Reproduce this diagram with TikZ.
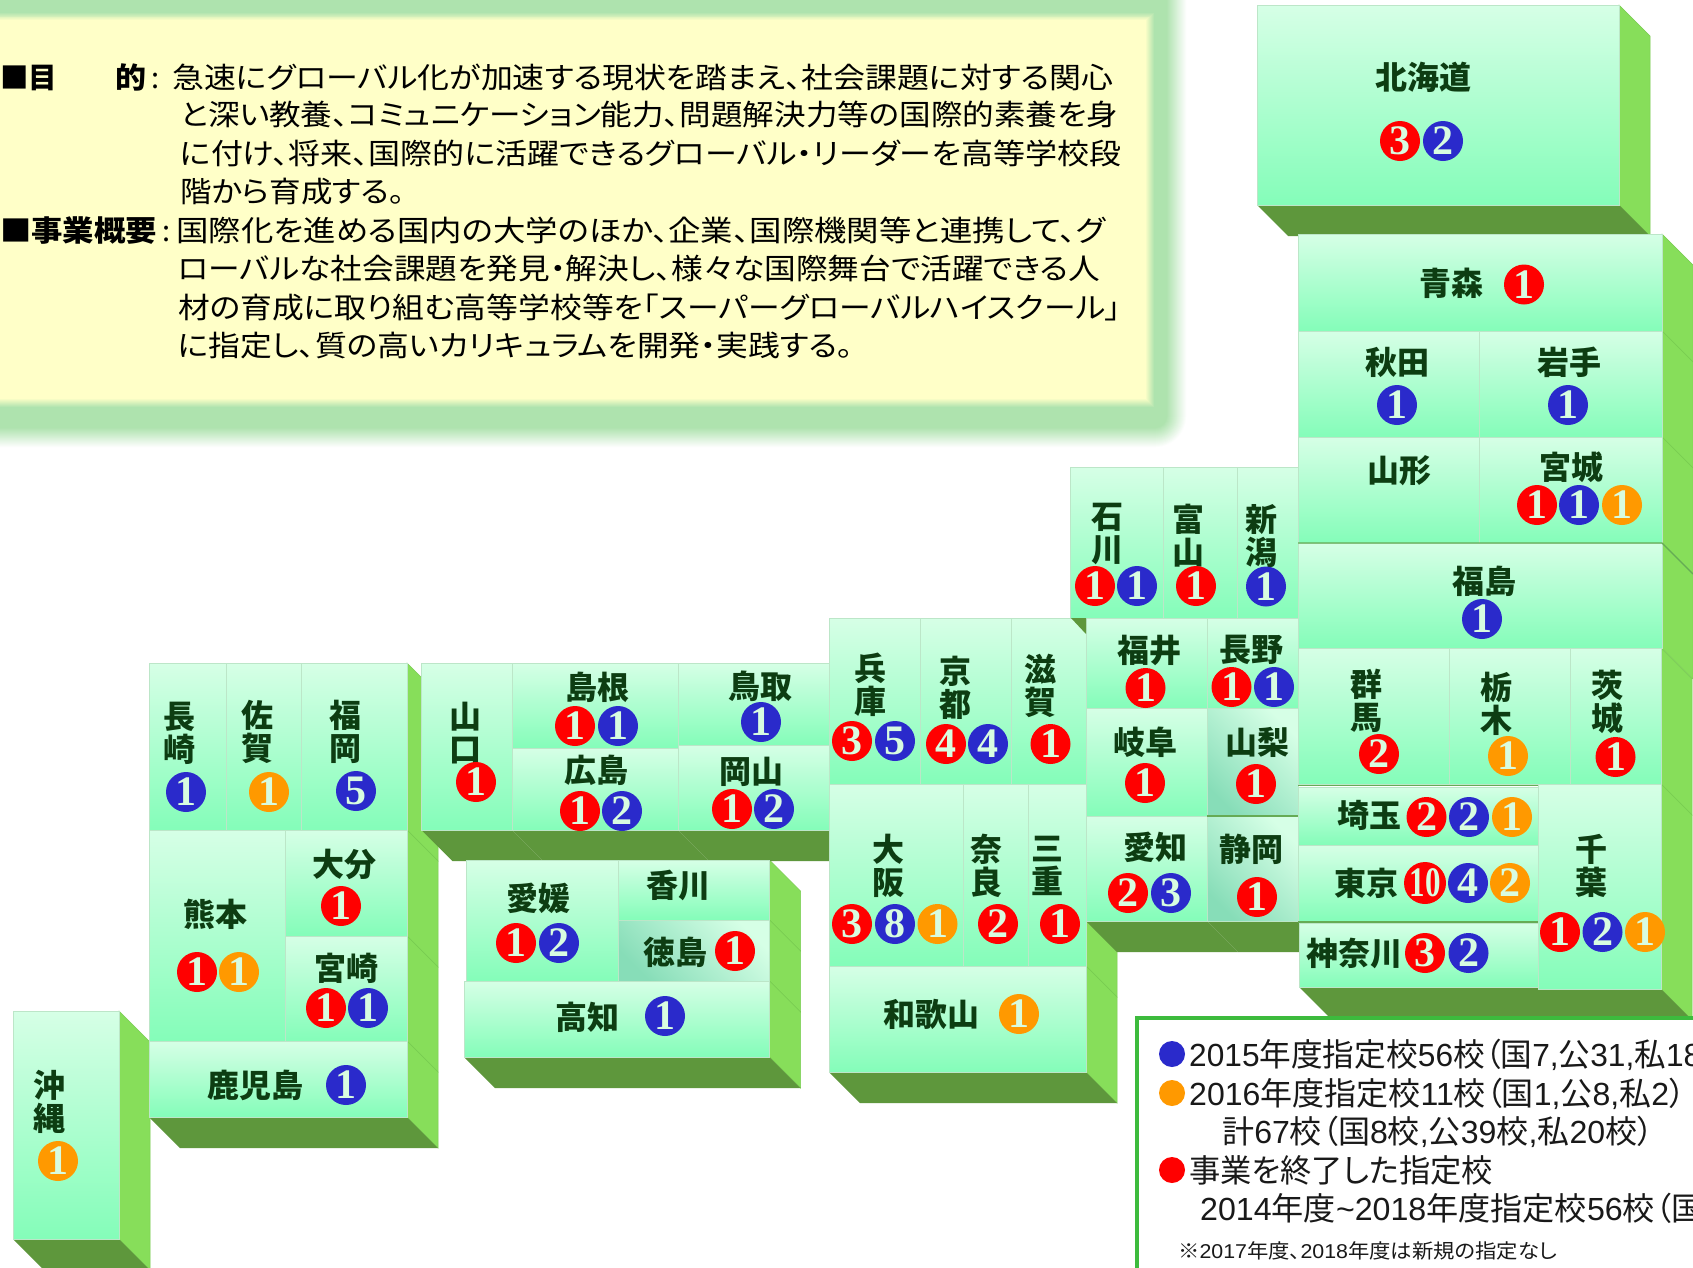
\documentclass[tikz,border=0pt]{standalone}
\usepackage{fontspec}
\usepackage{graphicx}
\setmainfont{Noto Sans CJK JP}[RawFeature=+palt]
\newfontfamily\latf{Liberation Sans}
\newfontfamily\numf{Liberation Serif}
\definecolor{glowc}{HTML}{AEE3AE}
\definecolor{panelc}{HTML}{FFFFC8}
\definecolor{sidec}{HTML}{87DE5A}
\definecolor{sidee}{HTML}{78CC50}
\definecolor{darkc}{HTML}{5E973C}
\definecolor{faceT}{HTML}{D6FFE6}
\definecolor{faceB}{HTML}{84FDB9}
\definecolor{faceD}{HTML}{87DDB8}
\definecolor{facee}{HTML}{BCE6C8}
\definecolor{labc}{HTML}{0D3D12}
\definecolor{redc}{HTML}{FF0000}
\definecolor{bluec}{HTML}{2A2ACB}
\definecolor{orgc}{HTML}{FF9900}
\definecolor{numc}{HTML}{D8FCE0}
\definecolor{legc}{HTML}{3DBB3D}
\tikzset{
  sideface/.style={fill=sidec,draw=sidee,line width=0.5pt},
  botface/.style={fill=darkc},
  face/.style={top color=faceT,bottom color=faceB,draw=facee,line width=1pt},
  diagface/.style={top color=faceT,bottom color=faceD,shading angle=-45,draw=facee,line width=1pt},
  lab/.style={inner sep=0pt,align=center,text=labc,font=\fontsize{32}{33}\selectfont\bfseries},
  badge/.style={circle,inner sep=0pt,minimum size=40pt,text=numc,font=\fontsize{42}{42}\selectfont\numf\bfseries},
  tline/.style={inner sep=0pt,anchor=base west,text=black,font=\fontsize{29}{29}\selectfont},
  legl/.style={inner sep=0pt,anchor=base west,text=black!90,font=\fontsize{32}{32}\selectfont},
  legs/.style={inner sep=0pt,anchor=base west,text=black!90,font=\fontsize{20}{20}\selectfont},
  legdot/.style={circle,inner sep=0pt,minimum size=26pt},
  seam/.style={draw=darkc!80!faceB,line width=1.2pt}
}
\newcommand{\fitw}[2]{\resizebox{#1pt}{\height}{#2}}
\newcommand{\lnum}[1]{{\latf #1}}
\newcommand{\sidep}[3]{\path[sideface] (#1,#2) -- ({#1+31},{#2+31}) -- ({#1+31},{#3+31}) -- (#1,#3) -- cycle;}
\newcommand{\botp}[3]{\path[botface] (#1,#3) -- (#2,#3) -- ({#2+31},{#3+31}) -- ({#1+31},{#3+31}) -- cycle;}
\newcommand{\facep}[5]{\node[inner sep=0pt,outer sep=0pt,minimum width={#4-#2},minimum height={#5-#3},anchor=north west,#1] at (#2,#3) {};}
\newcommand{\plab}[4]{\node[lab] (#1) at (#2,#3) {#4};}
\newcounter{bdgc}
\newcommand{\bdg}[4]{\stepcounter{bdgc}\node[badge,fill=#3] (bdg\arabic{bdgc}) at (#1,#2) {#4};}
\newcommand{\tln}[5]{\node[tline] (#1) at (#2,#3) {\fitw{#4}{#5}};}
\begin{document}
\begin{tikzpicture}[x=1pt,y=-1pt]
\useasboundingbox (0,0) rectangle (1693,1267);
\clip (0,0) rectangle (1693,1267);
\fill[white] (0,0) rectangle (1693,1267);
% panel with soft glow
\foreach \i in {0,...,20}{
  \pgfmathsetmacro\mixv{\i*100/20}
  \pgfmathsetmacro\rr{1187-\i}
  \pgfmathsetmacro\bb{448-\i}
  \pgfmathsetmacro\rad{32-\i}
  \fill[glowc!\mixv!white,rounded corners=\rad pt] (-60,-60) rectangle (\rr,\bb);
}
\foreach \i in {0,...,9}{
  \pgfmathsetmacro\mixv{\i*100/9}
  \pgfmathsetmacro\rr{1155-\i}
  \pgfmathsetmacro\bb{408-\i}
  \pgfmathsetmacro\tp{12+0.9*\i}
  \fill[panelc!\mixv!glowc] (-30,\tp) rectangle (\rr,\bb);
}
% text of the panel
\node[tline,font=\fontsize{29}{29}\selectfont\bfseries] (h1a) at (0,88) {\fitw{57}{■目}};
\node[tline,font=\fontsize{29}{29}\selectfont\bfseries] (h1b) at (115,88) {\fitw{31}{的}};
\node[tline] (h1c) at (151,88) {:};
\tln{t1}{172}{88}{941}{急速にグローバル化が加速する現状を踏まえ、社会課題に対する関心}
\tln{t2}{180}{125}{938}{と深い教養、コミュニケーション能力、問題解決力等の国際的素養を身}
\tln{t3}{180}{164}{941}{に付け、将来、国際的に活躍できるグローバル・リーダーを高等学校段}
\tln{t4}{180}{202}{225}{階から育成する。}
\node[tline,font=\fontsize{29}{29}\selectfont\bfseries] (h2a) at (0,241) {\fitw{157}{■事業概要}};
\node[tline] (h2c) at (162,241) {:};
\tln{t5}{176}{241}{929}{国際化を進める国内の大学のほか、企業、国際機関等と連携して、グ}
\tln{t6}{178}{279}{922}{ローバルな社会課題を発見・解決し、様々な国際舞台で活躍できる人}
\tln{t7}{178}{318}{943}{材の育成に取り組む高等学校等を「スーパーグローバルハイスクール」}
\tln{t8}{178}{356}{675}{に指定し、質の高いカリキュラムを開発・実践する。}
% side walls
\sidep{1619}{5}{205}
\sidep{1662}{234}{331}\sidep{1662}{331}{437}\sidep{1662}{437}{543}\sidep{1662}{543}{648}
\sidep{1661}{648}{784}\sidep{1661}{784}{989}
\sidep{407}{663}{830}\sidep{407}{830}{936}\sidep{407}{936}{1041}\sidep{407}{1041}{1117}
\sidep{119}{1011}{1239}
\sidep{769.5}{860}{920}\sidep{769.5}{920}{981}\sidep{769.5}{981}{1057}
\sidep{1086}{784}{966}\sidep{1086}{966}{1072}
% bottom walls
\botp{1257}{1619}{205}
\botp{421.5}{512}{830}\botp{512}{678}{830}\botp{678}{829}{830}
\botp{1086}{1207}{921}\botp{1207}{1298}{921}
\botp{1299}{1538}{987}\botp{1538}{1661}{989}
\botp{149}{407}{1117}
\botp{13}{119}{1239}
\botp{464}{769.5}{1057}
\botp{829}{1086}{1072}
% faces
\facep{face}{1257}{5}{1619}{205}
\facep{face}{1298}{234}{1662}{331}
\facep{face}{1298}{331}{1479}{437}\facep{face}{1479}{331}{1662}{437}
\facep{face}{1298}{437}{1479}{543}\facep{face}{1479}{437}{1662}{543}
\facep{face}{1298}{543}{1662}{648}
\facep{face}{1070}{467}{1163}{618}\facep{face}{1163}{467}{1237}{618}\facep{face}{1237}{467}{1298}{618}
\facep{face}{1086}{618}{1207}{708}\facep{face}{1207}{618}{1298}{708}
\facep{face}{1086}{708}{1207}{816}\facep{diagface}{1207}{708}{1298}{816}
\facep{face}{1086}{816}{1207}{921}\facep{diagface}{1207}{816}{1298}{921}
\facep{face}{1298}{648}{1449}{784}\facep{face}{1449}{648}{1570}{784}\facep{face}{1570}{648}{1661}{784}
\facep{face}{1298}{787}{1538}{845}\facep{face}{1298}{845}{1538}{921}\facep{face}{1299}{923}{1538}{987}
\facep{face}{1538}{784}{1661}{989}
\facep{face}{149}{663}{226}{830}\facep{face}{226}{663}{301}{830}\facep{face}{301}{663}{407}{830}
\facep{face}{149}{830}{285}{1041}\facep{face}{285}{830}{407}{936}\facep{face}{285}{936}{407}{1041}
\facep{face}{149}{1041}{407}{1117}
\facep{face}{13}{1011}{119}{1239}
\facep{face}{421.5}{663}{512}{830}
\facep{face}{512}{663}{678}{748}\facep{face}{512}{748}{678}{830}
\facep{face}{678}{663}{829}{745}\facep{face}{678}{745}{829}{830}
\facep{face}{466}{860}{618}{981}\facep{face}{618}{860}{769.5}{920}\facep{diagface}{618}{920}{769.5}{981}
\facep{face}{464}{981}{769.5}{1057}
\facep{face}{829}{618}{920.6}{784}\facep{face}{920.6}{618}{1011.5}{784}\facep{face}{1011.5}{618}{1086}{784}
\facep{face}{829}{784}{963}{966}\facep{face}{963}{784}{1028.5}{966}\facep{face}{1028.5}{784}{1086}{966}
\facep{face}{829}{966}{1086}{1072}
% small shadow of Ishikawa over the corner of Shiga
\path[botface] (1071,618) -- (1086,618) -- (1086,634) -- cycle;
% seams
\path[seam] (1298,543) -- (1662,543) -- (1693,574);
\path[seam] (1298,785.5) -- (1538,785.5);
\path[seam] (1298,922) -- (1538,922);
\path[seam] (1207,816) -- (1298,816);
% labels
\plab{hokkaido}{1423}{77}{北海道}
\plab{aomori}{1451}{283}{青森}
\plab{akita}{1397}{362}{秋田}
\plab{iwate}{1569}{362}{岩手}
\plab{yamagata}{1399}{471}{山形}
\plab{miyagi}{1571}{467}{宮城}
\plab{fukushima}{1484}{581}{福島}
\plab{ishikawa}{1107}{534}{石\\川}
\plab{toyama}{1188}{536}{富\\山}
\plab{niigata}{1261}{536}{新\\潟}
\plab{fukui}{1149}{650}{福井}
\plab{nagano}{1251}{650}{長野}
\plab{gifu}{1145}{742}{岐阜}
\plab{yamanashi}{1257}{742}{山梨}
\plab{aichi}{1155}{847}{愛知}
\plab{shizuoka}{1251}{849}{静岡}
\plab{gunma}{1366}{701}{群\\馬}
\plab{tochigi}{1496}{704}{栃\\木}
\plab{ibaraki}{1607}{702}{茨\\城}
\plab{saitama}{1369}{815}{埼玉}
\plab{tokyo}{1366}{883}{東京}
\plab{kanagawa}{1354}{953}{神奈川}
\plab{chiba}{1591}{866}{千\\葉}
\plab{nagasaki}{179}{733}{長\\崎}
\plab{saga}{257}{732}{佐\\賀}
\plab{fukuoka}{345}{732}{福\\岡}
\plab{oita}{344}{864}{大分}
\plab{miyazaki}{346}{968}{宮崎}
\plab{kumamoto}{215}{914}{熊本}
\plab{kagoshima}{255}{1085}{鹿児島}
\plab{okinawa}{49}{1102}{沖\\縄}
\plab{yamaguchi}{465}{733}{山\\口}
\plab{shimane}{597}{687}{島根}
\plab{hiroshima}{596}{770}{広島}
\plab{tottori}{760}{686}{鳥取}
\plab{okayama}{751}{772}{岡山}
\plab{hyogo}{870}{685}{兵\\庫}
\plab{kyoto}{955}{688}{京\\都}
\plab{shiga}{1040}{686}{滋\\賀}
\plab{osaka}{888}{866}{大\\阪}
\plab{nara}{986}{866}{奈\\良}
\plab{mie}{1047}{866}{三\\重}
\plab{wakayama}{931}{1014}{和歌山}
\plab{ehime}{538}{898}{愛媛}
\plab{kagawa}{678}{885}{香川}
\plab{tokushima}{675}{952}{徳島}
\plab{kochi}{587}{1017}{高知}
% badges
\bdg{1400}{141}{redc}{3}\bdg{1443}{141}{bluec}{2}
\bdg{1524}{284.5}{redc}{1}
\bdg{1397}{405}{bluec}{1}\bdg{1568}{405}{bluec}{1}
\bdg{1537}{505}{redc}{1}\bdg{1579}{505}{bluec}{1}\bdg{1622}{505}{orgc}{1}
\bdg{1482}{619}{bluec}{1}
\bdg{1095}{586}{redc}{1}\bdg{1137}{586}{bluec}{1}
\bdg{1196}{586}{redc}{1}
\bdg{1266}{586.5}{bluec}{1}
\bdg{1145.5}{688}{redc}{1}
\bdg{1231.5}{687}{redc}{1}\bdg{1274}{687}{bluec}{1}
\bdg{1145}{783}{redc}{1}
\bdg{1256}{784}{redc}{1}
\bdg{1128}{893}{redc}{2}\bdg{1171}{893}{bluec}{3}
\bdg{1257}{897}{redc}{1}
\bdg{1379}{754}{redc}{2}
\bdg{1508}{756}{orgc}{1}
\bdg{1615.5}{757}{redc}{1}
\bdg{1426.5}{817}{redc}{2}\bdg{1469}{817}{bluec}{2}\bdg{1512}{817}{orgc}{1}
\bdg{1425}{883}{redc}{\resizebox{31pt}{\height}{10}}\bdg{1468}{883}{bluec}{4}\bdg{1510}{883}{orgc}{2}
\bdg{1425}{953}{redc}{3}\bdg{1468.5}{953}{bluec}{2}
\bdg{1560}{932}{redc}{1}\bdg{1602.5}{932}{bluec}{2}\bdg{1645}{932}{orgc}{1}
\bdg{186}{792}{bluec}{1}
\bdg{269}{792}{orgc}{1}
\bdg{356}{791}{bluec}{5}
\bdg{341}{906}{redc}{1}
\bdg{326}{1008}{redc}{1}\bdg{368}{1008}{bluec}{1}
\bdg{197}{972}{redc}{1}\bdg{239}{972}{orgc}{1}
\bdg{346}{1085}{bluec}{1}
\bdg{58}{1161}{orgc}{1}
\bdg{476}{782}{redc}{1}
\bdg{575}{726}{redc}{1}\bdg{618}{726}{bluec}{1}
\bdg{580}{811}{redc}{1}\bdg{622}{811}{bluec}{2}
\bdg{761}{722}{bluec}{1}
\bdg{732}{809}{redc}{1}\bdg{774}{809}{bluec}{2}
\bdg{852}{741}{redc}{3}\bdg{895}{741}{bluec}{5}
\bdg{946}{744}{redc}{4}\bdg{988}{744}{bluec}{4}
\bdg{1050.5}{744}{redc}{1}
\bdg{852}{924}{redc}{3}\bdg{895}{924}{bluec}{8}\bdg{937.5}{924}{orgc}{1}
\bdg{998}{924}{redc}{2}
\bdg{1060}{924}{redc}{1}
\bdg{1019}{1014}{orgc}{1}
\bdg{516}{943}{redc}{1}\bdg{559}{943}{bluec}{2}
\bdg{735}{951}{redc}{1}
\bdg{665}{1016}{bluec}{1}
% legend
\path[draw=legc,fill=white,line width=4pt] (1137,1018) rectangle (1720,1300);
\node[legdot,fill=bluec] (dotblue) at (1172,1054) {};
\node[legdot,fill=orgc] (dotorange) at (1172,1093) {};
\node[legdot,fill=redc] (dotred) at (1172,1170) {};
\node[legl] (leg1) at (1189,1066) {\fitw{512}{\lnum{2015}年度指定校\lnum{56}校（国\lnum{7,}公\lnum{31,}私\lnum{18}}};
\node[legl] (leg2) at (1189,1105) {\fitw{496}{\lnum{2016}年度指定校\lnum{11}校（国\lnum{1,}公\lnum{8,}私\lnum{2}）}};
\node[legl] (leg3) at (1222,1143) {\fitw{431}{計\lnum{67}校（国\lnum{8}校\lnum{,}公\lnum{39}校\lnum{,}私\lnum{20}校）}};
\node[legl] (leg4) at (1189,1182) {\fitw{304}{事業を終了した指定校}};
\node[legl] (leg5) at (1200,1220) {\fitw{503}{\lnum{2014}年度\lnum{\textasciitilde 2018}年度指定校\lnum{56}校（国}};
\node[legs] (leg6) at (1178,1258) {\fitw{379}{※\lnum{2017}年度、\lnum{2018}年度は新規の指定なし}};
\end{tikzpicture}
\end{document}
